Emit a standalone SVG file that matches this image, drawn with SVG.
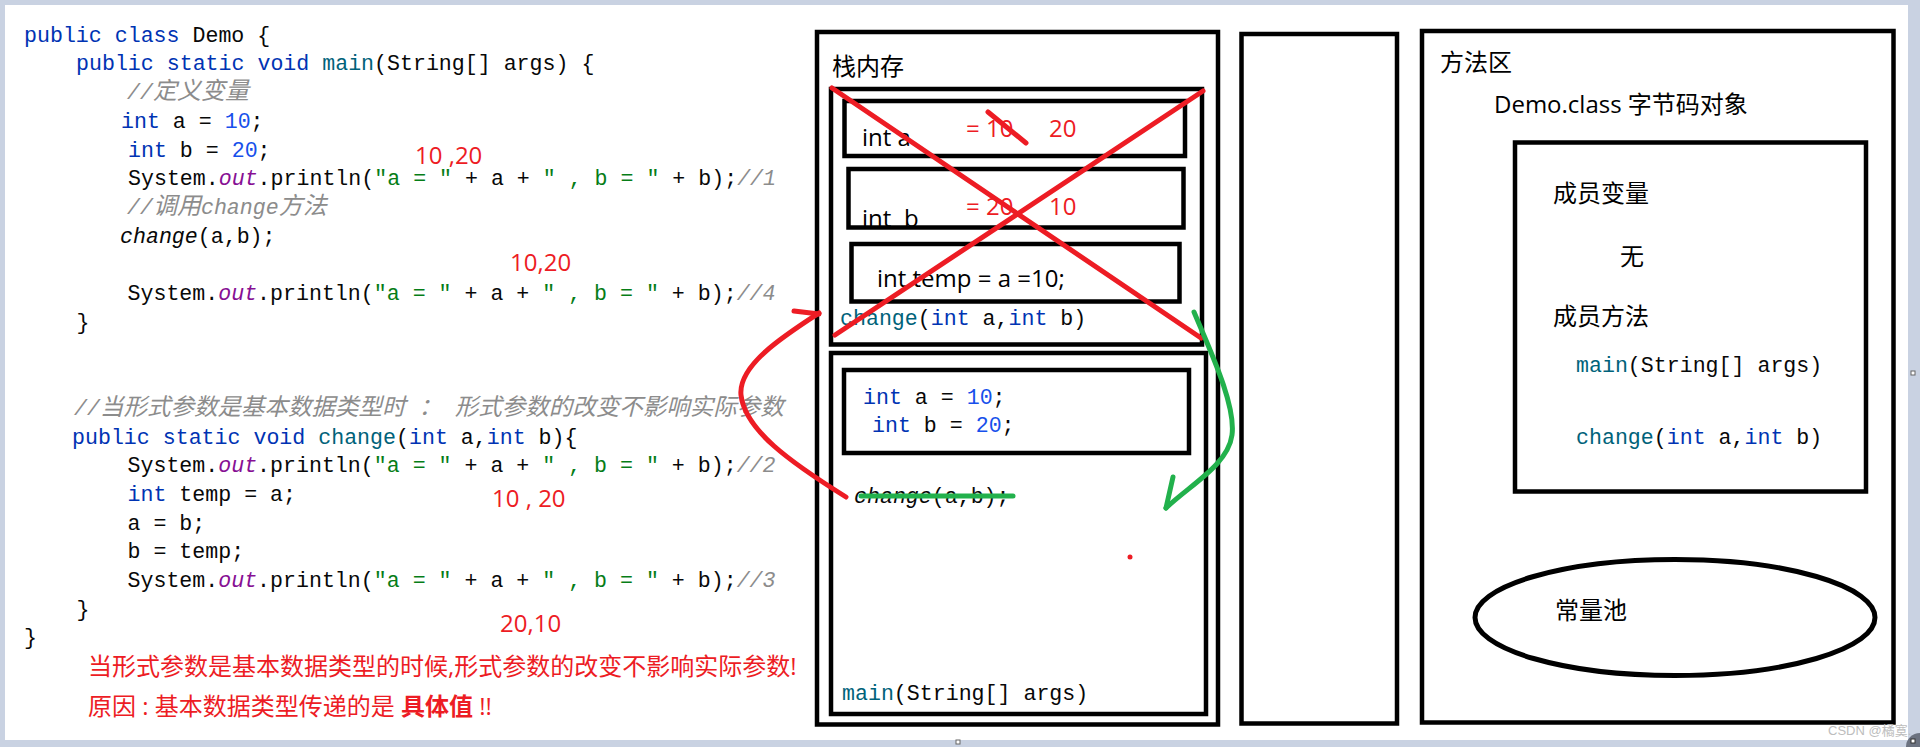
<svg xmlns="http://www.w3.org/2000/svg" width="1920" height="747" viewBox="0 0 1920 747">
<style>
.box{fill:none;stroke:#000;stroke-width:4.5}
.code{font-family:"Liberation Mono","Noto Sans CJK SC",monospace;font-size:21.6px;fill:#080808;white-space:pre}
.kw{fill:#0033b3}
.fn{fill:#00627a}
.num{fill:#1750eb}
.str{fill:#067d17}
.fld{fill:#871094;font-style:italic}
.cmt{fill:#8c8c8c;font-style:italic}
.it{font-style:italic}
.cjk{font-family:"Noto Sans CJK SC",sans-serif;font-size:24px}
.cjk2{font-family:"Noto Sans CJK SC",sans-serif;font-size:23.5px}
.lbl{font-family:"Open Sans","Noto Sans CJK SC",sans-serif;font-size:24px;fill:#000;white-space:pre}
.red{font-family:"Open Sans","Noto Sans CJK SC",sans-serif;font-size:24px;fill:#ed1c24;white-space:pre}
.rs{fill:none;stroke:#ed1c24;stroke-width:5;stroke-linecap:round;stroke-linejoin:round}
.gs{fill:none;stroke:#22b14c;stroke-width:5;stroke-linecap:round;stroke-linejoin:round}
</style>
<rect x="0" y="0" width="1920" height="747" fill="#c9d2e2"/>
<rect x="5" y="5" width="1903" height="735" fill="#ffffff"/>

<g id="code">
<text class="code" x="24" y="41.7"><tspan class="kw">public class</tspan> Demo {</text>
<text class="code" x="76" y="70.4"><tspan class="kw">public static void</tspan> <tspan class="fn">main</tspan>(String[] args) {</text>
<text class="code cmt" x="127" y="99.1">//<tspan class="cjk">定义变量</tspan></text>
<text class="code" x="121" y="127.8"><tspan class="kw">int</tspan> a = <tspan class="num">10</tspan>;</text>
<text class="code" x="128" y="156.5"><tspan class="kw">int</tspan> b = <tspan class="num">20</tspan>;</text>
<text class="code" x="128" y="185.2">System.<tspan class="fld">out</tspan>.println(<tspan class="str">"a = "</tspan> + a + <tspan class="str">" , b = "</tspan> + b);<tspan class="cmt">//1</tspan></text>
<text class="code cmt" x="127" y="213.9">//<tspan class="cjk">调用</tspan>change<tspan class="cjk">方法</tspan></text>
<text class="code" x="120" y="242.6"><tspan class="it">change</tspan>(a,b);</text>
<text class="code" x="127.5" y="300">System.<tspan class="fld">out</tspan>.println(<tspan class="str">"a = "</tspan> + a + <tspan class="str">" , b = "</tspan> + b);<tspan class="cmt">//4</tspan></text>
<text class="code" x="76.5" y="328.7">}</text>
<text class="code cmt" x="74" y="414.8">//<tspan class="cjk2">当形式参数是基本数据类型时</tspan> <tspan class="cjk2">：</tspan> <tspan class="cjk2">形式参数的改变不影响实际参数</tspan></text>
<text class="code" x="72" y="443.5"><tspan class="kw">public static void</tspan> <tspan class="fn">change</tspan>(<tspan class="kw">int</tspan> a,<tspan class="kw">int</tspan> b){</text>
<text class="code" x="127.5" y="472.2">System.<tspan class="fld">out</tspan>.println(<tspan class="str">"a = "</tspan> + a + <tspan class="str">" , b = "</tspan> + b);<tspan class="cmt">//2</tspan></text>
<text class="code" x="127.5" y="500.9"><tspan class="kw">int</tspan> temp = a;</text>
<text class="code" x="127.5" y="529.6">a = b;</text>
<text class="code" x="127.5" y="558.3">b = temp;</text>
<text class="code" x="127.5" y="587">System.<tspan class="fld">out</tspan>.println(<tspan class="str">"a = "</tspan> + a + <tspan class="str">" , b = "</tspan> + b);<tspan class="cmt">//3</tspan></text>
<text class="code" x="76.5" y="615.7">}</text>
<text class="code" x="24" y="644.4">}</text>
</g>

<g id="code-notes">
<text class="red" x="415" y="164">10 ,20</text>
<text class="red" x="510" y="271">10,20</text>
<text class="red" x="492" y="507">10 , 20</text>
<text class="red" x="500" y="632">20,10</text>
<text class="red" x="88" y="675" style="font-size:24px">当形式参数是基本数据类型的时候,形式参数的改变不影响实际参数!</text>
<text class="red" x="88" y="715" style="font-size:24px">原因 : 基本数据类型传递的是 <tspan font-weight="bold">具体值</tspan> !!</text>
</g>

<g id="stack">
<text class="lbl" x="832" y="75">栈内存</text>
<g id="frame-change">
<text class="lbl" x="862" y="146">int a</text>
<text class="red" x="966" y="137">= 10</text>
<text class="red" x="1049" y="137">20</text>
<text class="lbl" x="862" y="227">int<tspan x="904">b</tspan></text>
<text class="red" x="966" y="215">= 20</text>
<text class="red" x="1049" y="215">10</text>
<text class="lbl" x="877" y="287">int temp = a =10;</text>
<text class="code" x="840" y="325"><tspan class="fn">change</tspan>(<tspan class="kw">int</tspan> a,<tspan class="kw">int</tspan> b)</text>
<rect class="box" x="844.5" y="101" width="340.5" height="55"/>
<rect class="box" x="848.5" y="169" width="335" height="58.5"/>
<rect class="box" x="851.5" y="244" width="328" height="57.5"/>
<rect class="box" x="831" y="89" width="371" height="255.5"/>
</g>
<g id="frame-main">
<text class="code" x="863" y="404"><tspan class="kw">int</tspan> a = <tspan class="num">10</tspan>;</text>
<text class="code" x="872" y="432"><tspan class="kw">int</tspan> b = <tspan class="num">20</tspan>;</text>
<text class="code" x="854" y="503"><tspan class="it">change</tspan>(a,b);</text>
<text class="code" x="842" y="700"><tspan class="fn">main</tspan>(String[] args)</text>
<rect class="box" x="844" y="370" width="345" height="83"/>
<rect class="box" x="831" y="353" width="375" height="361"/>
</g>
<rect class="box" x="817" y="32" width="401" height="692.5"/>
</g>

<g id="heap">
<rect class="box" x="1241.5" y="34" width="155.5" height="689.5"/>
</g>

<g id="method-area">
<rect class="box" x="1422" y="31" width="471.5" height="691.5"/>
<text class="lbl" x="1440" y="71">方法区</text>
<text class="lbl" x="1494" y="113">Demo.class 字节码对象</text>
<g id="class-object">
<rect class="box" x="1515" y="142.5" width="351" height="349"/>
<text class="lbl" x="1553" y="202">成员变量</text>
<text class="lbl" x="1620" y="265">无</text>
<text class="lbl" x="1553" y="325">成员方法</text>
<text class="code" x="1576" y="372"><tspan class="fn">main</tspan>(String[] args)</text>
<text class="code" x="1576" y="444"><tspan class="fn">change</tspan>(<tspan class="kw">int</tspan> a,<tspan class="kw">int</tspan> b)</text>
</g>
<g id="constant-pool">
<ellipse cx="1675" cy="617.5" rx="200" ry="58" fill="none" stroke="#000" stroke-width="5"/>
<text class="lbl" x="1555" y="619">常量池</text>
</g>
</g>

<g id="connectors">
<path class="rs" d="M832,88 L1201,338"/>
<path class="rs" d="M1203,91 L835,335"/>
<path class="rs" d="M988,112 L1026,143"/>
<path class="rs" d="M846,497 C790,462 745,430 741,395 C738,365 785,335 819,313"/>
<path class="rs" d="M794,311 L819,314"/>
<path class="gs" d="M1194,312 C1210,350 1236,405 1232,435 C1228,465 1190,485 1166,508"/>
<path class="gs" d="M1173,477 L1166,508"/>
<path class="gs" d="M861,496 L1013,496"/>
<circle cx="1130" cy="557" r="2.5" fill="#ed1c24"/>
</g>

<g id="chrome">
<text x="1828" y="735" font-family="'Liberation Sans','Noto Sans CJK SC',sans-serif" font-size="13" fill="#bdbdbd">CSDN @橘寞.</text>
<rect x="1911" y="371" width="4" height="4" fill="#fff" stroke="#666" stroke-width="1"/>
<rect x="956" y="740" width="4" height="4" fill="#fff" stroke="#666" stroke-width="1"/>
<path d="M1906,747 A14,14 0 0 1 1920,733 L1920,747 Z" fill="#6b7280"/>
<rect x="1911" y="739" width="4" height="4" fill="#fff" stroke="#333" stroke-width="1"/>
</g>
</svg>
